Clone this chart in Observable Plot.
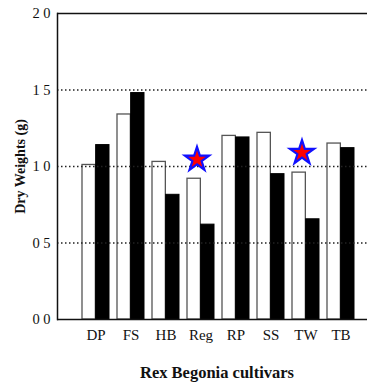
<!DOCTYPE html>
<html>
<head>
<meta charset="utf-8">
<script src="https://cdn.jsdelivr.net/npm/d3@7"></script>
<script src="https://cdn.jsdelivr.net/npm/@observablehq/plot@0.6"></script>
<style>
  html, body { margin: 0; padding: 0; background: #fff; }
  svg { display: block; }
</style>
</head>
<body>
<div id="chart"></div>
<script>
const cultivars = ["DP", "FS", "HB", "Reg", "RP", "SS", "TW", "TB"];
const whiteValues = [1.01, 1.34, 1.03, 0.92, 1.20, 1.22, 0.96, 1.15];
const blackValues = [1.14, 1.48, 0.815, 0.62, 1.19, 0.95, 0.655, 1.12];
const starCultivars = ["Reg", "TW"];
const starValues = [1.045, 1.09];
const yTicks = [0, 0.5, 1, 1.5, 2];
const yTickLabels = ["0 0", "0 5", "1 0", "1 5", "2 0"];
const gridValues = [0.5, 1, 1.5];
const xTitle = "Rex Begonia cultivars";
const yTitle = "Dry Weights (g)";

const rows = cultivars.map((c, i) => ({cultivar: c, white: whiteValues[i], black: blackValues[i]}));
const stars = starCultivars.map((c, i) => ({cultivar: c, value: starValues[i]}));

const chart = Plot.plot({
  width: 367,
  height: 384,
  marginLeft: 57,
  marginRight: 0,
  marginTop: 13,
  marginBottom: 65,
  style: {fontFamily: "'Liberation Serif', 'Times New Roman', serif", fontSize: "14px", color: "#111", background: "#fff"},
  x: {domain: cultivars, paddingInner: 0.227, paddingOuter: 0.504, align: 0.646, label: null},
  y: {domain: [0, 2], label: null},
  marks: [
    Plot.barY(rows, {x: "cultivar", y: "white", fill: "#fff", stroke: "#555", strokeWidth: 1.3, insetRight: 13.65}),
    Plot.barY(rows, {x: "cultivar", y: "black", fill: "#000", stroke: "#000", strokeWidth: 1, insetLeft: 13.65}),
    Plot.ruleY(gridValues, {stroke: "#222", strokeWidth: 1.3, strokeDasharray: "1.5,2.5"}),
    Plot.ruleY([0, 2], {stroke: "#111", strokeWidth: 1.5}),
    Plot.frame({anchor: "left", stroke: "#111", strokeWidth: 1.5}),
    Plot.dot(stars, {x: "cultivar", y: "value", symbol: "star", r: 7.6, fill: "#ff0000", stroke: "#1010ff", strokeWidth: 2.2, dx: -4}),
    Plot.axisY({ticks: yTicks, tickSize: 0, tickPadding: 7, tickFormat: (d, i) => yTickLabels[yTicks.indexOf(d)], fontSize: 14.5, label: null}),
    Plot.axisX({tickSize: 0, tickPadding: 10, fontSize: 15, label: null}),
    Plot.text([xTitle], {frameAnchor: "bottom", dy: 53, dx: 4.5, fontWeight: "bold", fontSize: 16.5, textAnchor: "middle", lineAnchor: "middle"}),
    Plot.text([yTitle], {frameAnchor: "left", dx: -37, rotate: -90, fontWeight: "bold", fontSize: 14, textAnchor: "middle", lineAnchor: "middle"})
  ]
});
document.getElementById("chart").appendChild(chart);
</script>
</body>
</html>
